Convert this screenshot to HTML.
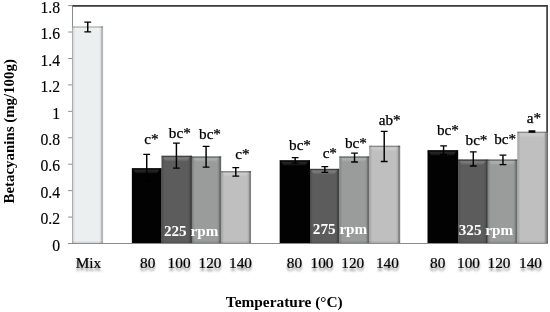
<!DOCTYPE html>
<html><head><meta charset="utf-8"><title>chart</title>
<style>
html,body{margin:0;padding:0;background:#fff;}
body{width:550px;height:312px;overflow:hidden;font-family:"Liberation Serif",serif;}
svg{display:block;will-change:transform;}
text{font-family:"Liberation Serif",serif;}
.ax{font-size:15.7px;fill:#000;stroke:#000;stroke-width:0.15px;}
.cat{font-size:15.3px;fill:#000;stroke:#000;stroke-width:0.2px;filter:url(#sh);}
.dl{font-size:15.2px;fill:#000;stroke:#000;stroke-width:0.25px;}
.rpm{font-size:15.2px;font-weight:bold;fill:#fff;}
.ttl{font-size:14.9px;font-weight:bold;fill:#000;}
.xt{font-size:15.4px;font-weight:bold;fill:#000;}
</style></head><body>
<svg width="550" height="312" viewBox="0 0 550 312">
<defs>
<filter id="sh" x="-20%" y="-20%" width="140%" height="180%">
<feGaussianBlur in="SourceAlpha" stdDeviation="1.1" result="b"/>
<feOffset in="b" dx="0" dy="3" result="o"/>
<feComponentTransfer in="o" result="s"><feFuncA type="linear" slope="0.45"/></feComponentTransfer>
<feMerge><feMergeNode in="s"/><feMergeNode in="SourceGraphic"/></feMerge>
</filter>

<linearGradient id="bt" x1="0" x2="0" y1="0" y2="1"><stop offset="0" stop-color="#000" stop-opacity="0.32"/><stop offset="0.55" stop-color="#000" stop-opacity="0.28"/><stop offset="1" stop-color="#000" stop-opacity="0"/></linearGradient>
<linearGradient id="bl" x1="0" x2="1" y1="0" y2="0"><stop offset="0" stop-color="#000" stop-opacity="0.22"/><stop offset="0.35" stop-color="#000" stop-opacity="0.10"/><stop offset="1" stop-color="#000" stop-opacity="0"/></linearGradient>
<linearGradient id="br" x1="1" x2="0" y1="0" y2="0"><stop offset="0" stop-color="#000" stop-opacity="0.34"/><stop offset="0.4" stop-color="#000" stop-opacity="0.28"/><stop offset="0.55" stop-color="#000" stop-opacity="0.10"/><stop offset="1" stop-color="#000" stop-opacity="0"/></linearGradient>
<linearGradient id="bb" x1="0" x2="0" y1="1" y2="0"><stop offset="0" stop-color="#000" stop-opacity="0.14"/><stop offset="1" stop-color="#000" stop-opacity="0"/></linearGradient>
<linearGradient id="hi" x1="0" x2="0" y1="0" y2="1"><stop offset="0" stop-color="#fff" stop-opacity="0.10"/><stop offset="0.35" stop-color="#fff" stop-opacity="0.20"/><stop offset="1" stop-color="#fff" stop-opacity="0.06"/></linearGradient>
</defs>
<rect width="550" height="312" fill="#fff"/>
<line x1="72.5" y1="5.6" x2="72.5" y2="243.5" stroke="#8c8c8c" stroke-width="1"/>
<line x1="68.2" y1="243.50" x2="72.5" y2="243.50" stroke="#8c8c8c" stroke-width="1"/>
<text class="ax" x="60" y="250.70" text-anchor="end">0</text>
<line x1="68.2" y1="217.07" x2="72.5" y2="217.07" stroke="#8c8c8c" stroke-width="1"/>
<text class="ax" x="60" y="224.27" text-anchor="end">0.2</text>
<line x1="68.2" y1="190.63" x2="72.5" y2="190.63" stroke="#8c8c8c" stroke-width="1"/>
<text class="ax" x="60" y="197.83" text-anchor="end">0.4</text>
<line x1="68.2" y1="164.20" x2="72.5" y2="164.20" stroke="#8c8c8c" stroke-width="1"/>
<text class="ax" x="60" y="171.40" text-anchor="end">0.6</text>
<line x1="68.2" y1="137.77" x2="72.5" y2="137.77" stroke="#8c8c8c" stroke-width="1"/>
<text class="ax" x="60" y="144.97" text-anchor="end">0.8</text>
<line x1="68.2" y1="111.33" x2="72.5" y2="111.33" stroke="#8c8c8c" stroke-width="1"/>
<text class="ax" x="60" y="118.53" text-anchor="end">1</text>
<line x1="68.2" y1="84.90" x2="72.5" y2="84.90" stroke="#8c8c8c" stroke-width="1"/>
<text class="ax" x="60" y="92.10" text-anchor="end">1.2</text>
<line x1="68.2" y1="58.47" x2="72.5" y2="58.47" stroke="#8c8c8c" stroke-width="1"/>
<text class="ax" x="60" y="65.67" text-anchor="end">1.4</text>
<line x1="68.2" y1="32.03" x2="72.5" y2="32.03" stroke="#8c8c8c" stroke-width="1"/>
<text class="ax" x="60" y="39.23" text-anchor="end">1.6</text>
<line x1="68.2" y1="5.60" x2="72.5" y2="5.60" stroke="#8c8c8c" stroke-width="1"/>
<text class="ax" x="60" y="12.80" text-anchor="end">1.8</text>
<path d="M72.5 5.9 H547.1 V243.5" fill="none" stroke="#3c3c3c" stroke-width="1.7"/>
<rect x="72.50" y="26.35" width="30.59" height="217.15" fill="#ecefef"/>
<rect x="98.89" y="26.35" width="4.2" height="217.15" fill="url(#br)" opacity="0.75"/>
<rect x="72.50" y="26.35" width="3" height="217.15" fill="url(#bl)" opacity="0.75"/>
<rect x="72.50" y="240.50" width="30.59" height="3" fill="url(#bb)"/>
<path d="M73.50 27.45H101.29L98.29 31.55H76.30Z" fill="url(#hi)" opacity="1"/>
<rect x="72.50" y="26.35" width="30.59" height="1.9" fill="url(#bt)" opacity="0.75"/>
<rect x="131.88" y="168.17" width="29.69" height="75.33" fill="#020202"/>
<rect x="157.36" y="168.17" width="4.2" height="75.33" fill="url(#br)" opacity="1.0"/>
<rect x="131.88" y="168.17" width="3" height="75.33" fill="url(#bl)" opacity="1.0"/>
<rect x="131.88" y="240.50" width="29.69" height="3" fill="url(#bb)"/>
<path d="M132.88 169.27H159.76L156.76 173.37H135.68Z" fill="url(#hi)" opacity="0.75"/>
<rect x="131.88" y="168.17" width="29.69" height="1.9" fill="url(#bt)" opacity="1.0"/>
<rect x="161.56" y="155.74" width="30.39" height="87.76" fill="#5c5c5c"/>
<rect x="187.75" y="155.74" width="4.2" height="87.76" fill="url(#br)" opacity="1.0"/>
<rect x="161.56" y="155.74" width="3" height="87.76" fill="url(#bl)" opacity="1.0"/>
<rect x="161.56" y="240.50" width="30.39" height="3" fill="url(#bb)"/>
<path d="M162.56 156.84H190.15L187.15 160.94H165.36Z" fill="url(#hi)" opacity="1"/>
<rect x="161.56" y="155.74" width="30.39" height="1.9" fill="url(#bt)" opacity="1.0"/>
<rect x="191.95" y="156.40" width="29.19" height="87.10" fill="#9a9c9c"/>
<rect x="216.94" y="156.40" width="4.2" height="87.10" fill="url(#br)" opacity="1.0"/>
<rect x="191.95" y="156.40" width="3" height="87.10" fill="url(#bl)" opacity="1.0"/>
<rect x="191.95" y="240.50" width="29.19" height="3" fill="url(#bb)"/>
<path d="M192.95 157.50H219.34L216.34 161.60H195.75Z" fill="url(#hi)" opacity="1"/>
<rect x="191.95" y="156.40" width="29.19" height="1.9" fill="url(#bt)" opacity="1.0"/>
<rect x="221.14" y="171.07" width="29.89" height="72.43" fill="#bfbfbf"/>
<rect x="246.82" y="171.07" width="4.2" height="72.43" fill="url(#br)" opacity="1.0"/>
<rect x="221.14" y="171.07" width="3" height="72.43" fill="url(#bl)" opacity="1.0"/>
<rect x="221.14" y="240.50" width="29.89" height="3" fill="url(#bb)"/>
<path d="M222.14 172.17H249.22L246.22 176.27H224.94Z" fill="url(#hi)" opacity="1"/>
<rect x="221.14" y="171.07" width="29.89" height="1.9" fill="url(#bt)" opacity="1.0"/>
<rect x="279.71" y="160.24" width="30.29" height="83.26" fill="#020202"/>
<rect x="305.80" y="160.24" width="4.2" height="83.26" fill="url(#br)" opacity="1.0"/>
<rect x="279.71" y="160.24" width="3" height="83.26" fill="url(#bl)" opacity="1.0"/>
<rect x="279.71" y="240.50" width="30.29" height="3" fill="url(#bb)"/>
<path d="M280.71 161.34H308.20L305.20 165.44H283.51Z" fill="url(#hi)" opacity="0.75"/>
<rect x="279.71" y="160.24" width="30.29" height="1.9" fill="url(#bt)" opacity="1.0"/>
<rect x="310.00" y="168.83" width="29.39" height="74.67" fill="#5c5c5c"/>
<rect x="335.19" y="168.83" width="4.2" height="74.67" fill="url(#br)" opacity="1.0"/>
<rect x="310.00" y="168.83" width="3" height="74.67" fill="url(#bl)" opacity="1.0"/>
<rect x="310.00" y="240.50" width="29.39" height="3" fill="url(#bb)"/>
<path d="M311.00 169.93H337.59L334.59 174.03H313.80Z" fill="url(#hi)" opacity="1"/>
<rect x="310.00" y="168.83" width="29.39" height="1.9" fill="url(#bt)" opacity="1.0"/>
<rect x="339.39" y="156.40" width="29.89" height="87.10" fill="#9a9c9c"/>
<rect x="365.07" y="156.40" width="4.2" height="87.10" fill="url(#br)" opacity="1.0"/>
<rect x="339.39" y="156.40" width="3" height="87.10" fill="url(#bl)" opacity="1.0"/>
<rect x="339.39" y="240.50" width="29.89" height="3" fill="url(#bb)"/>
<path d="M340.39 157.50H367.47L364.47 161.60H343.19Z" fill="url(#hi)" opacity="1"/>
<rect x="339.39" y="156.40" width="29.89" height="1.9" fill="url(#bt)" opacity="1.0"/>
<rect x="369.27" y="145.70" width="30.89" height="97.80" fill="#bfbfbf"/>
<rect x="395.96" y="145.70" width="4.2" height="97.80" fill="url(#br)" opacity="1.0"/>
<rect x="369.27" y="145.70" width="3" height="97.80" fill="url(#bl)" opacity="1.0"/>
<rect x="369.27" y="240.50" width="30.89" height="3" fill="url(#bb)"/>
<path d="M370.27 146.80H398.36L395.36 150.90H373.07Z" fill="url(#hi)" opacity="1"/>
<rect x="369.27" y="145.70" width="30.89" height="1.9" fill="url(#bt)" opacity="1.0"/>
<rect x="427.55" y="150.19" width="30.59" height="93.31" fill="#020202"/>
<rect x="453.94" y="150.19" width="4.2" height="93.31" fill="url(#br)" opacity="1.0"/>
<rect x="427.55" y="150.19" width="3" height="93.31" fill="url(#bl)" opacity="1.0"/>
<rect x="427.55" y="240.50" width="30.59" height="3" fill="url(#bb)"/>
<path d="M428.55 151.29H456.34L453.34 155.39H431.35Z" fill="url(#hi)" opacity="0.75"/>
<rect x="427.55" y="150.19" width="30.59" height="1.9" fill="url(#bt)" opacity="1.0"/>
<rect x="458.14" y="159.44" width="29.69" height="84.06" fill="#5c5c5c"/>
<rect x="483.62" y="159.44" width="4.2" height="84.06" fill="url(#br)" opacity="1.0"/>
<rect x="458.14" y="159.44" width="3" height="84.06" fill="url(#bl)" opacity="1.0"/>
<rect x="458.14" y="240.50" width="29.69" height="3" fill="url(#bb)"/>
<path d="M459.14 160.54H486.02L483.02 164.64H461.94Z" fill="url(#hi)" opacity="1"/>
<rect x="458.14" y="159.44" width="29.69" height="1.9" fill="url(#bt)" opacity="1.0"/>
<rect x="487.82" y="159.44" width="29.59" height="84.06" fill="#9a9c9c"/>
<rect x="513.21" y="159.44" width="4.2" height="84.06" fill="url(#br)" opacity="1.0"/>
<rect x="487.82" y="159.44" width="3" height="84.06" fill="url(#bl)" opacity="1.0"/>
<rect x="487.82" y="240.50" width="29.59" height="3" fill="url(#bb)"/>
<path d="M488.82 160.54H515.61L512.61 164.64H491.62Z" fill="url(#hi)" opacity="1"/>
<rect x="487.82" y="159.44" width="29.59" height="1.9" fill="url(#bt)" opacity="1.0"/>
<rect x="517.41" y="131.69" width="30.09" height="111.81" fill="#bfbfbf"/>
<rect x="543.30" y="131.69" width="4.2" height="111.81" fill="url(#br)" opacity="1.0"/>
<rect x="517.41" y="131.69" width="3" height="111.81" fill="url(#bl)" opacity="1.0"/>
<rect x="517.41" y="240.50" width="30.09" height="3" fill="url(#bb)"/>
<path d="M518.41 132.79H545.70L542.70 136.89H521.21Z" fill="url(#hi)" opacity="1"/>
<rect x="517.41" y="131.69" width="30.09" height="1.9" fill="url(#bt)" opacity="1.0"/>
<line x1="68.2" y1="243.5" x2="547.5" y2="243.5" stroke="#8c8c8c" stroke-width="1.2"/>
<path d="M87.74 22.10V31.90" stroke="#000" stroke-width="1.45" fill="none"/>
<path d="M84.34 22.10H91.14M84.34 31.90H91.14" stroke="#000" stroke-width="1.3" fill="none"/>
<path d="M146.72 154.40V181.00" stroke="#000" stroke-width="1.45" fill="none"/>
<path d="M143.32 154.40H150.12M143.32 181.00H150.12" stroke="#000" stroke-width="1.3" fill="none"/>
<path d="M176.41 143.10V168.20" stroke="#000" stroke-width="1.45" fill="none"/>
<path d="M173.01 143.10H179.81M173.01 168.20H179.81" stroke="#000" stroke-width="1.3" fill="none"/>
<path d="M206.09 146.30V167.20" stroke="#000" stroke-width="1.45" fill="none"/>
<path d="M202.69 146.30H209.49M202.69 167.20H209.49" stroke="#000" stroke-width="1.3" fill="none"/>
<path d="M235.78 167.60V176.10" stroke="#000" stroke-width="1.45" fill="none"/>
<path d="M232.38 167.60H239.18M232.38 176.10H239.18" stroke="#000" stroke-width="1.3" fill="none"/>
<path d="M295.16 157.70V163.20" stroke="#000" stroke-width="1.45" fill="none"/>
<path d="M291.76 157.70H298.56M291.76 163.20H298.56" stroke="#000" stroke-width="1.3" fill="none"/>
<path d="M324.84 166.70V172.30" stroke="#000" stroke-width="1.45" fill="none"/>
<path d="M321.44 166.70H328.24M321.44 172.30H328.24" stroke="#000" stroke-width="1.3" fill="none"/>
<path d="M354.53 153.20V162.00" stroke="#000" stroke-width="1.45" fill="none"/>
<path d="M351.13 153.20H357.93M351.13 162.00H357.93" stroke="#000" stroke-width="1.3" fill="none"/>
<path d="M384.22 131.40V161.50" stroke="#000" stroke-width="1.45" fill="none"/>
<path d="M380.82 131.40H387.62M380.82 161.50H387.62" stroke="#000" stroke-width="1.3" fill="none"/>
<path d="M443.59 145.90V154.50" stroke="#000" stroke-width="1.45" fill="none"/>
<path d="M440.19 145.90H446.99M440.19 154.50H446.99" stroke="#000" stroke-width="1.3" fill="none"/>
<path d="M473.28 151.90V166.00" stroke="#000" stroke-width="1.45" fill="none"/>
<path d="M469.88 151.90H476.68M469.88 166.00H476.68" stroke="#000" stroke-width="1.3" fill="none"/>
<path d="M502.97 155.20V164.70" stroke="#000" stroke-width="1.45" fill="none"/>
<path d="M499.57 155.20H506.37M499.57 164.70H506.37" stroke="#000" stroke-width="1.3" fill="none"/>
<path d="M531.96 131.00V132.00" stroke="#000" stroke-width="1.45" fill="none"/>
<path d="M528.56 131.00H535.36M528.56 132.00H535.36" stroke="#000" stroke-width="1.3" fill="none"/>
<text class="cat" x="88.5" y="268.4" text-anchor="middle">Mix</text>
<text class="cat" x="147.7" y="268.4" text-anchor="middle">80</text>
<text class="cat" x="179.1" y="268.4" text-anchor="middle">100</text>
<text class="cat" x="210" y="268.4" text-anchor="middle">120</text>
<text class="cat" x="240.5" y="268.4" text-anchor="middle">140</text>
<text class="cat" x="294.4" y="268.4" text-anchor="middle">80</text>
<text class="cat" x="322" y="268.4" text-anchor="middle">100</text>
<text class="cat" x="352.8" y="268.4" text-anchor="middle">120</text>
<text class="cat" x="387.4" y="268.4" text-anchor="middle">140</text>
<text class="cat" x="437.7" y="268.4" text-anchor="middle">80</text>
<text class="cat" x="468.5" y="268.4" text-anchor="middle">100</text>
<text class="cat" x="499" y="268.4" text-anchor="middle">120</text>
<text class="cat" x="530.5" y="268.4" text-anchor="middle">140</text>
<text class="dl" x="151.4" y="144" text-anchor="middle">c*</text>
<text class="dl" x="179.8" y="138" text-anchor="middle">bc*</text>
<text class="dl" x="210" y="138.8" text-anchor="middle">bc*</text>
<text class="dl" x="242.4" y="159.2" text-anchor="middle">c*</text>
<text class="dl" x="300" y="149.5" text-anchor="middle">bc*</text>
<text class="dl" x="329.8" y="158" text-anchor="middle">c*</text>
<text class="dl" x="355.9" y="148" text-anchor="middle">bc*</text>
<text class="dl" x="389.7" y="125" text-anchor="middle">ab*</text>
<text class="dl" x="447.9" y="134.8" text-anchor="middle">bc*</text>
<text class="dl" x="476.5" y="144.6" text-anchor="middle">bc*</text>
<text class="dl" x="505.2" y="144" text-anchor="middle">bc*</text>
<text class="dl" x="533.9" y="123.2" text-anchor="middle">a*</text>
<text class="rpm" x="163.9" y="235.5">225 rpm</text>
<text class="rpm" x="312.8" y="234.0">275 rpm</text>
<text class="rpm" x="458.7" y="234.5">325 rpm</text>
<text class="xt" x="225.8" y="307.1">Temperature (°C)</text>
<text class="ttl" transform="translate(14,131.3) rotate(-90)" text-anchor="middle">Betacyanins (mg/100g)</text>
</svg></body></html>
